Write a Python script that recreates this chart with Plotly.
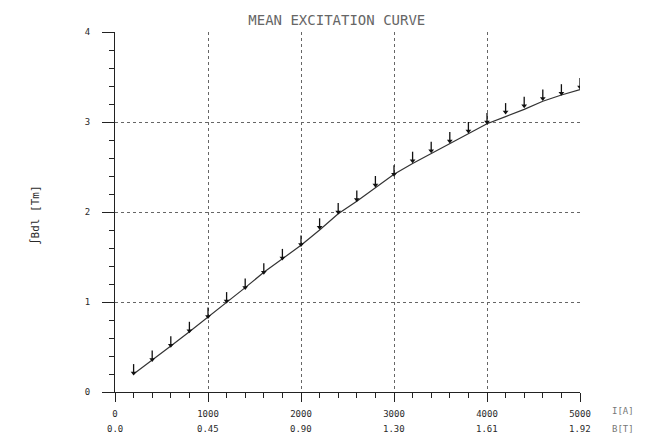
import plotly.graph_objects as go

# Data
current = [200, 400, 600, 800, 1000, 1200, 1400, 1600, 1800, 2000, 2200, 2400, 2600,
           2800, 3000, 3200, 3400, 3600, 3800, 4000, 4200, 4400, 4600, 4800, 5000]
curve_bdl = [0.20, 0.35, 0.51, 0.67, 0.83, 1.00, 1.16, 1.33, 1.48, 1.63, 1.80, 1.98, 2.12,
             2.27, 2.42, 2.54, 2.65, 2.76, 2.87, 2.98, 3.06, 3.14, 3.23, 3.30, 3.36]
measured_bdl = [0.21, 0.36, 0.52, 0.68, 0.84, 1.01, 1.16, 1.33, 1.49, 1.64, 1.83, 2.00, 2.14,
                2.30, 2.42, 2.57, 2.68, 2.79, 2.90, 3.00, 3.11, 3.18, 3.26, 3.32, 3.39]
x_ticks = [0, 1000, 2000, 3000, 4000, 5000]
x_ticklabels = ["0", "1000", "2000", "3000", "4000", "5000"]
b_ticklabels = ["0.0", "0.45", "0.90", "1.30", "1.61", "1.92"]
y_ticks = [0, 1, 2, 3, 4]

FONT = "DejaVu Sans Mono"
INK = "#2a2a2a"

fig = go.Figure()

fig.add_trace(go.Scatter(
    x=current, y=curve_bdl, mode="lines",
    line=dict(color="#333333", width=1.2), showlegend=False,
))

fig.add_trace(go.Scatter(
    x=current, y=measured_bdl, mode="markers",
    marker=dict(symbol="triangle-down", size=5, color="#111111"),
    error_y=dict(type="constant", value=0.1, valueminus=0, symmetric=False,
                 width=0, thickness=1.3, color="#111111"),
    showlegend=False,
))

# Second row of x labels (B[T])
for xv, lab in zip(x_ticks, b_ticklabels):
    fig.add_annotation(x=xv, y=0, xref="x", yref="paper", text=lab, showarrow=False,
                       yshift=-44, font=dict(family=FONT, size=9, color=INK))

fig.add_annotation(x=1, y=0, xref="paper", yref="paper", text="I[A]", showarrow=False,
                   xanchor="left", xshift=30, yshift=-26, font=dict(family=FONT, size=9, color="#777"))
fig.add_annotation(x=1, y=0, xref="paper", yref="paper", text="B[T]", showarrow=False,
                   xanchor="left", xshift=30, yshift=-44, font=dict(family=FONT, size=9, color="#777"))

fig.add_annotation(x=0, y=0.49, xref="paper", yref="paper", text="∫Bdl [Tm]", showarrow=False,
                   textangle=-90, xshift=-88, font=dict(family=FONT, size=11, color=INK))

fig.update_layout(
    width=647, height=437,
    margin=dict(l=115, r=67, t=32, b=45),
    paper_bgcolor="white", plot_bgcolor="white",
    title=dict(text="MEAN EXCITATION CURVE", x=0.477, xref="paper", xanchor="center",
               y=0.965, yref="container",
               font=dict(family=FONT, size=14, color="#666666")),
    xaxis=dict(
        range=[0, 5000], tickvals=x_ticks, ticktext=x_ticklabels,
        showgrid=True, gridcolor="#666666", griddash="dot", gridwidth=1,
        showline=True, linecolor="#222", linewidth=1.2,
        ticks="outside", ticklen=9, tickcolor="#222", tickwidth=1.2,
        minor=dict(dtick=200, ticks="outside", ticklen=5, tickcolor="#222", showgrid=False),
        tickfont=dict(family=FONT, size=9, color=INK), zeroline=False,
        ticklabelstandoff=4,
    ),
    yaxis=dict(
        range=[0, 4], tickvals=y_ticks,
        showgrid=True, gridcolor="#666666", griddash="dot", gridwidth=1,
        showline=True, linecolor="#222", linewidth=1.2,
        ticks="outside", ticklen=12, tickcolor="#222", tickwidth=1,
        minor=dict(dtick=0.2, ticks="outside", ticklen=5, tickcolor="#222", showgrid=False),
        tickfont=dict(family=FONT, size=9, color=INK), zeroline=False,
        ticklabelstandoff=10,
    ),
)

fig.write_html("out.html")
